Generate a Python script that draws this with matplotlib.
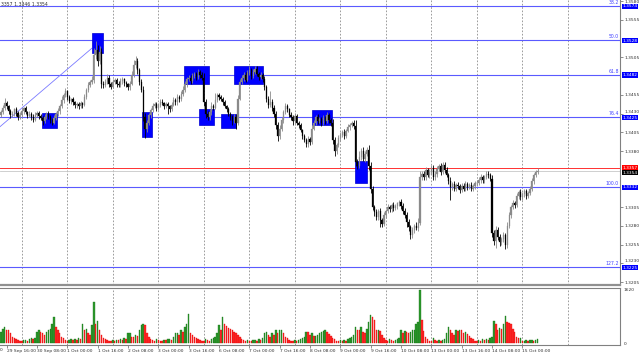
import matplotlib
matplotlib.use('Agg')
import matplotlib.pyplot as plt
import numpy as np
from matplotlib.patches import Rectangle

plt.rcParams['font.family'] = ['Liberation Sans Narrow', 'DejaVu Sans']

# ---------------- data (H1 bars, 29 Sep 13:00 -> 15 Oct 08:00) ----------------
# closes in 1/10000 units (3432 -> 1.3432)
close_pips = [
    3432, 3438, 3444, 3440, 3433, 3428, 3430, 3436, 3431, 3425,
    3428, 3434, 3437, 3432, 3427, 3430, 3426, 3422, 3428, 3431,
    3427, 3424, 3420, 3425, 3430, 3426, 3421, 3418, 3424, 3429,
    3433, 3440, 3448, 3455, 3460, 3452, 3447, 3449, 3445, 3441,
    3443, 3440, 3444, 3442, 3452, 3461, 3468, 3472, 3475, 3508,
    3515, 3500, 3512, 3470, 3468, 3472, 3478, 3470, 3466, 3472,
    3475, 3470, 3468, 3473, 3476, 3471, 3469, 3465, 3470, 3482,
    3495, 3500, 3488, 3472, 3462, 3425, 3410, 3418, 3428, 3435,
    3440, 3443, 3438, 3441, 3446, 3444, 3440, 3443, 3440, 3436,
    3442, 3448, 3445, 3452, 3450, 3456, 3462, 3470, 3476, 3478,
    3474, 3480, 3483, 3479, 3485, 3482, 3478, 3445, 3430, 3425,
    3432, 3440, 3438, 3448, 3455, 3452, 3450, 3445, 3440, 3436,
    3430, 3425, 3420, 3426, 3418, 3450, 3472, 3478, 3482, 3475,
    3484, 3488, 3480, 3485, 3490, 3483, 3479, 3482, 3476, 3465,
    3450, 3442, 3446, 3438, 3430, 3415, 3400, 3410, 3422, 3432,
    3440, 3436, 3428, 3425, 3420, 3427, 3418, 3415, 3408, 3400,
    3395, 3390, 3396, 3392, 3410, 3418, 3425, 3420, 3423, 3418,
    3424, 3420, 3428, 3422, 3417, 3395, 3380, 3388, 3398, 3402,
    3405, 3400, 3407, 3412, 3415, 3418, 3414, 3365, 3360, 3372,
    3380, 3370, 3376, 3382, 3360, 3330, 3305, 3298, 3292, 3300,
    3288, 3283, 3295, 3300, 3305, 3302, 3308, 3304, 3306, 3310,
    3312, 3307, 3300, 3295, 3285, 3278, 3268, 3275, 3280, 3277,
    3284, 3345, 3350, 3345, 3355, 3348, 3352, 3358, 3345, 3350,
    3356, 3360, 3352, 3362, 3355, 3348, 3340, 3332, 3336, 3330,
    3335, 3333, 3328, 3334, 3330, 3336, 3332, 3335, 3330, 3333,
    3337, 3338, 3342, 3345, 3341, 3346, 3350, 3348, 3343, 3270,
    3260, 3275, 3265, 3258, 3262, 3268, 3255, 3280, 3295, 3305,
    3310, 3308, 3320, 3325, 3318, 3322, 3326, 3320, 3324, 3330,
    3340, 3348, 3352, 3354,
]
first_open_pips = 3428

# upper / lower wick lengths in 1/10000 units
wick_hi = [
    3, 4, 7, 3, 2, 3, 4, 2, 3, 2,
    4, 3, 2, 3, 2, 3, 2, 3, 4, 2,
    3, 2, 3, 4, 2, 3, 2, 3, 4, 3,
    4, 3, 5, 3, 4, 2, 3, 2, 3, 2,
    3, 2, 3, 2, 4, 3, 4, 3, 5, 9,
    12, 6, 8, 5, 3, 4, 5, 3, 2, 4,
    3, 2, 3, 4, 3, 2, 3, 2, 4, 5,
    6, 7, 4, 3, 4, 5, 6, 4, 3, 3,
    4, 3, 2, 3, 4, 3, 2, 3, 3, 2,
    3, 4, 3, 4, 3, 4, 5, 4, 3, 4,
    3, 4, 3, 2, 4, 3, 3, 6, 4, 3,
    4, 5, 3, 10, 3, 2, 3, 2, 3, 2,
    3, 2, 3, 4, 3, 5, 4, 3, 4, 3,
    4, 5, 3, 4, 3, 4, 3, 3, 2, 4,
    3, 4, 14, 3, 4, 3, 4, 5, 4, 3,
    4, 3, 2, 4, 3, 4, 3, 2, 3, 2,
    3, 2, 4, 3, 5, 4, 3, 4, 3, 3,
    4, 3, 4, 3, 2, 6, 4, 3, 4, 3,
    3, 4, 3, 4, 3, 2, 3, 8, 4, 8,
    4, 5, 4, 3, 6, 5, 4, 3, 4, 3,
    4, 3, 4, 3, 4, 3, 3, 4, 3, 2,
    3, 4, 3, 4, 3, 4, 3, 4, 3, 5,
    6, 8, 4, 3, 4, 3, 4, 3, 4, 3,
    4, 3, 4, 3, 3, 4, 3, 6, 3, 4,
    3, 4, 3, 4, 3, 4, 3, 3, 4, 3,
    3, 4, 3, 4, 3, 2, 3, 4, 3, 5,
    4, 5, 3, 4, 3, 4, 3, 5, 4, 3,
    4, 3, 4, 3, 4, 3, 4, 3, 3, 4,
    4, 3, 3, 3,
]
wick_lo = [
    3, 2, 3, 4, 3, 4, 2, 3, 4, 3,
    2, 3, 4, 2, 3, 2, 4, 3, 2, 3,
    4, 3, 5, 3, 2, 3, 4, 3, 2, 3,
    2, 3, 2, 4, 3, 4, 3, 4, 3, 4,
    3, 4, 3, 4, 2, 3, 2, 3, 3, 4,
    5, 6, 4, 6, 4, 3, 2, 4, 3, 2,
    3, 4, 3, 2, 3, 4, 3, 4, 3, 2,
    3, 4, 5, 4, 3, 5, 12, 4, 3, 4,
    3, 2, 4, 3, 2, 3, 4, 3, 10, 4,
    3, 2, 4, 3, 4, 3, 2, 3, 4, 3,
    4, 3, 2, 4, 3, 4, 3, 5, 6, 4,
    3, 4, 3, 2, 3, 4, 3, 4, 3, 4,
    3, 4, 5, 3, 8, 3, 2, 3, 4, 3,
    2, 3, 4, 3, 2, 3, 4, 3, 4, 4,
    5, 4, 3, 4, 4, 5, 6, 4, 3, 4,
    3, 4, 3, 4, 5, 4, 3, 4, 3, 4,
    3, 4, 5, 4, 3, 2, 3, 4, 3, 4,
    3, 4, 3, 4, 3, 5, 6, 4, 3, 4,
    3, 4, 3, 2, 4, 3, 4, 5, 4, 3,
    4, 3, 4, 3, 5, 6, 4, 5, 4, 4,
    9, 4, 3, 4, 3, 4, 3, 4, 3, 4,
    3, 5, 4, 5, 6, 5, 6, 4, 5, 3,
    4, 3, 4, 3, 4, 3, 4, 3, 4, 3,
    4, 3, 4, 3, 4, 3, 4, 17, 4, 3,
    4, 3, 4, 3, 4, 3, 4, 3, 4, 3,
    3, 4, 3, 4, 3, 4, 3, 4, 3, 5,
    6, 9, 4, 5, 4, 3, 6, 4, 3, 4,
    3, 4, 3, 4, 3, 4, 3, 4, 3, 3,
    3, 4, 3, 3,
]

volumes = [
    350, 430, 500, 400, 400, 300, 200, 150, 120, 90, 80,
    60, 90, 110, 80, 120, 150, 130, 170,
    350, 420, 330, 300, 250, 330, 400, 450, 600, 790, 500, 400, 300, 200,
    150, 100, 70, 90, 120, 100, 140, 110, 160, 130,
    600, 400, 450, 300, 250, 550, 1260, 600, 680, 400, 250, 150, 120,
    100, 80, 60, 90, 70, 110, 90, 130, 100, 150, 120,
    300, 320, 200, 200, 250, 230, 400, 550, 600, 550, 300, 200, 130,
    100, 80, 120, 90, 70, 60, 100, 90, 120, 140, 110,
    200, 300, 320, 250, 400, 350, 500, 600, 900, 300, 250, 200,
    150, 120, 100, 80, 60, 140, 100, 80, 120, 150,
    200, 300, 550, 400, 790, 600, 520, 470, 440, 400, 350, 300, 240, 180,
    120, 90, 70, 100, 80, 60, 90, 110, 80, 130, 100, 150,
    300, 350, 250, 200, 300, 250, 400, 300, 400, 420, 300, 200, 150, 100,
    80, 60, 100, 70, 90, 120,
    150, 200, 350, 350, 250, 300, 220, 230, 240, 300, 330, 360, 400, 350, 280, 220, 160, 120,
    80, 60, 90, 70, 100, 80, 120, 150, 200,
    250, 500, 420, 400, 500, 350, 300, 450, 650, 860, 790, 700, 400, 420, 380, 250, 150,
    100, 80, 120, 90, 70, 110, 130, 150,
    400, 300, 380, 350, 300, 350, 400, 420, 600, 650, 1620, 700, 370, 200,
    120, 80, 60, 150, 100, 60, 90, 80, 100, 130,
    300, 500, 400, 300, 250, 400, 370, 420, 400, 300, 350, 270, 220, 170,
    120, 80, 60, 100, 80, 120, 90, 140, 110, 150,
    200, 670, 600, 420, 480, 450, 600, 825, 650, 620, 600, 450, 350, 200, 150, 160,
    60, 80, 100, 70, 90, 110, 80, 100, 120,
]

# bar index of each day start (00:00) -> dashed separators
day_starts = [11, 35, 59, 83, 107, 131, 155, 179, 203, 227, 251, 275, 299]
# time labels (every 16 bars)
time_label_bars = [3, 19, 35, 51, 67, 83, 99, 115, 131, 147, 163, 179, 195, 211, 227, 243, 259, 275]
time_labels = ["29 Sep 16:00", "30 Sep 08:00", "1 Oct 00:00", "1 Oct 16:00", "2 Oct 08:00",
               "3 Oct 00:00", "3 Oct 16:00", "6 Oct 08:00", "7 Oct 00:00", "7 Oct 16:00",
               "8 Oct 08:00", "9 Oct 00:00", "9 Oct 16:00", "10 Oct 08:00", "13 Oct 00:00",
               "13 Oct 16:00", "14 Oct 08:00", "15 Oct 00:00"]

# Fibonacci levels
fib_names = ["38.2", "50.0", "61.8", "76.4", "100.0", "127.2"]
fib_prices = [1.3574, 1.3528, 1.3482, 1.3425, 1.3332, 1.3225]
fib_diag = [(-0.5, 1.34125), (47.9, 1.35171)]

# blue zones: (bar_from, bar_to, price_low, price_high)
zones = [
    (21.65, 29.56, 1.3411, 1.3431),
    (48.0, 53.8, 1.3511, 1.3538),
    (74.4, 79.7, 1.3399, 1.3432),
    (96.5, 109.7, 1.3470, 1.3494),
    (104.5, 112.4, 1.3415, 1.3436),
    (116.1, 124.0, 1.3411, 1.3429),
    (122.9, 138.2, 1.3470, 1.3494),
    (164.0, 174.6, 1.3415, 1.3435),
    (186.7, 193.0, 1.3337, 1.3367),
]

ask_price = 1.3357
bid_price = 1.3354
price_ticks = [1.3205, 1.3230, 1.3255, 1.3280, 1.3305, 1.3380, 1.3405,
               1.3430, 1.3455, 1.3505, 1.3555, 1.3580]
header_text = "3357 1.3346 1.3354"
vol_max_label = 1620

# ---------------- figure ----------------
W, H = 640, 356
fig = plt.figure(figsize=(W / 100, H / 100), dpi=100)
fig.patch.set_facecolor('white')
ax = fig.add_axes([0, 1 - 285 / H, 620 / W, 285 / H])
axv = fig.add_axes([0, 1 - 345 / H, 620 / W, (345 - 288) / H])

n = len(close_pips)
x = np.arange(n)
c = 1.0 + np.array(close_pips) / 10000.0
o = np.r_[1.0 + first_open_pips / 10000.0, c[:-1]]
hi = np.maximum(o, c) + np.array(wick_hi) / 10000.0
lo = np.minimum(o, c) - np.array(wick_lo) / 10000.0
up = c >= o
col = np.where(up, '#8a8a8a', '#000000')

XMIN, XMAX = -0.5, 326.5
ax.set_xlim(XMIN, XMAX)
ax.set_ylim(1.32012, 1.35816)

# zones
for b0, b1, p0, p1 in zones:
    ax.add_patch(Rectangle((b0, p0), b1 - b0, p1 - p0, facecolor='#0000ff',
                           edgecolor='#0000d0', lw=0.5, zorder=1))

# day separators
for d in day_starts:
    ax.axvline(d, color='#8c8c8c', lw=0.6, ls=(0, (2, 2)), zorder=0.5)
    axv.axvline(d, color='#8c8c8c', lw=0.6, ls=(0, (2, 2)), zorder=0.5)

# fib lines
for name, p in zip(fib_names, fib_prices):
    ax.axhline(p, color='#5a5aff', lw=0.8, zorder=0.8)
    ax.text(XMAX - 0.6, p + 0.00012, name, color='#4040ff', fontsize=3.3,
            ha='right', va='bottom', zorder=2)
ax.plot([fib_diag[0][0], fib_diag[1][0]], [fib_diag[0][1], fib_diag[1][1]],
        color='#7a7aff', lw=0.6, zorder=0.9)

# bid / ask lines
ax.axhline(ask_price, color='#ff3030', lw=0.7, zorder=0.8)
ax.axhline(bid_price, color='#c8c8c8', lw=0.6, zorder=0.8)

# candles
ax.vlines(x, lo, hi, colors=col, lw=0.6, zorder=3)
body = np.maximum(np.abs(c - o), 0.00008)
ax.bar(x, body, bottom=np.minimum(o, c), width=0.6, color=col, edgecolor=col,
       lw=0.2, zorder=3)

# axes styling main
for s in ['top', 'left']:
    ax.spines[s].set_visible(False)
ax.spines['right'].set_color('#808080')
ax.spines['right'].set_linewidth(0.8)
ax.spines['bottom'].set_color('#909090')
ax.spines['bottom'].set_linewidth(1.6)
ax.set_xticks([])
ax.yaxis.tick_right()
ax.set_yticks(price_ticks)
ax.set_yticklabels([f"{p:.4f}" for p in price_ticks])
ax.tick_params(axis='y', length=2, width=0.5, color='#606060', pad=1.5,
               labelsize=3.2, labelcolor='#303030')
# labels partly hidden by the level boxes sit a little higher
for t in ax.get_yticklabels():
    if t.get_text() in ("1.3430", "1.3230"):
        t.set_va('bottom')

# right-side price boxes
def price_box(p, txt, fc, tc='white', dy=0.0):
    ax.text(1.004, p + dy, txt, transform=ax.get_yaxis_transform(), ha='left',
            va='center', fontsize=3.1, color=tc, zorder=10, clip_on=False,
            bbox=dict(boxstyle='square,pad=0.12', fc=fc, ec='none'))

for name, p in zip(fib_names, fib_prices):
    price_box(p, f"{p:.4f}", '#0000ff', dy=-0.00005)
price_box(ask_price, f"{ask_price:.4f}", '#ff0000', dy=0.0001)
price_box(bid_price, f"{bid_price:.4f}", '#000000', dy=-0.0003)

# volume panel
v = np.array(volumes)
vup = np.r_[True, v[1:] > v[:-1]]
vcol = np.where(vup, '#2e9a2e', '#ff2a2a')
vedge = np.where(vup, '#137013', '#e00000')
axv.bar(x, v, width=0.75, color=vcol, edgecolor=vedge, lw=0.25, zorder=2)
axv.set_xlim(XMIN, XMAX)
axv.set_ylim(-50, 1680)
axv.spines['left'].set_visible(False)
for s in ['top', 'right', 'bottom']:
    axv.spines[s].set_color('#808080')
    axv.spines[s].set_linewidth(0.8)
axv.yaxis.tick_right()
axv.set_yticks([0, vol_max_label])
axv.set_yticklabels(['0', str(vol_max_label)])
axv.tick_params(axis='y', length=0, pad=2.5, labelsize=3.2, labelcolor='#303030')
axv.set_xticks(time_label_bars)
axv.set_xticklabels(time_labels)
axv.tick_params(axis='x', length=2, width=0.5, color='#606060', pad=1.2,
                labelsize=3.2, labelcolor='#303030')
for lbl in axv.get_xticklabels():
    lbl.set_ha('left')

fig.text(0.0, 0.0165, '0', fontsize=3.2, color='#303030', ha='left', va='center')
fig.text(0.001, 0.994, header_text, fontsize=3.3, color='#303030', ha='left', va='top')

fig.savefig('out.png', dpi=100, facecolor='white')
